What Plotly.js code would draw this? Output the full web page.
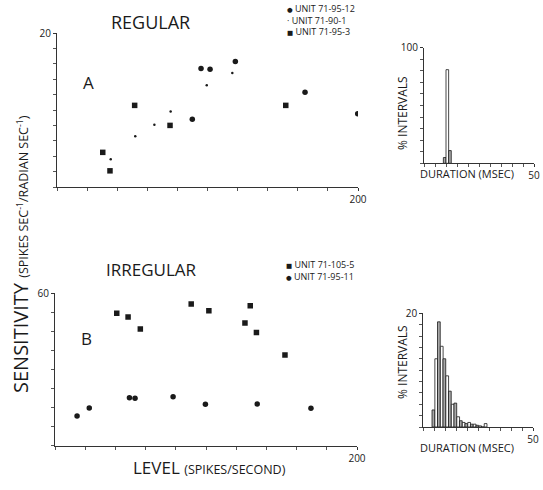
<!DOCTYPE html>
<html>
<head>
<meta charset="utf-8">
<script src="https://cdn.plot.ly/plotly-3.0.1.min.js"></script>
<style>html,body{margin:0;padding:0;background:#fff;}#chart{width:543px;height:490px;}</style>
</head>
<body>
<div id="chart"></div>
<script>
// ---------- DATA ----------
// Panel A (regular units): level (spikes/s) vs sensitivity
const regNames = ["UNIT 71-95-12", "UNIT 71-90-1", "UNIT 71-95-3"];
const regCircleLevel = [89.9, 95.7, 101.7, 118.5, 164.8, 199.8];
const regCircleSens  = [8.8, 15.4, 15.3, 16.3, 12.3, 9.5];
const regDotLevel    = [35.7, 52.0, 64.7, 75.5, 99.5, 116.5];
const regDotSens     = [3.6, 6.6, 8.1, 9.8, 13.2, 14.8];
const regSquareLevel = [30.4, 35.2, 51.6, 75.1, 152.0];
const regSquareSens  = [4.5, 2.1, 10.6, 8.0, 10.6];

// Panel B (irregular units)
const irrNames = ["UNIT 71-105-5", "UNIT 71-95-11"];
const irrSquareLevel = [40.9, 48.4, 56.5, 90.2, 101.9, 125.8, 129.3, 133.4, 152.3];
const irrSquareSens  = [52.1, 50.7, 45.9, 55.8, 53.1, 48.3, 55.1, 44.6, 35.7];
const irrCircleLevel = [14.6, 22.7, 49.3, 53.0, 78.2, 99.6, 133.9, 169.5];
const irrCircleSens  = [11.7, 14.8, 18.9, 18.7, 19.3, 16.3, 16.4, 14.7];

// Interval histograms (duration msec, % intervals)
const durTop = [9.4, 10.6, 11.8];
const pctTop = [5, 81, 11];
const durBot = [4.6, 5.9, 7.1, 8.4, 9.6, 10.9, 12.1, 13.4, 14.6, 15.9, 17.1, 18.4, 19.6, 20.9, 22.1, 23.4, 24.6, 25.9, 27.1, 28.4];
const pctBot = [3.0, 12.0, 18.5, 14.2, 12.0, 9.0, 6.3, 4.0, 4.2, 1.8, 1.1, 0.8, 0.6, 0.8, 0.5, 0.5, 0.3, 0.2, 0.0, 0.6];

// ---------- LAYOUT HELPERS ----------
const W = 543, H = 490;
const px = v => v / W;
const py = v => 1 - v / H;
const FONT = "Open Sans, DejaVu Sans, sans-serif";
const INK = "#1a1a1a";

function scatterTrace(x, y, symbol, size, xa, ya, name) {
  return {type: "scatter", mode: "markers", x: x, y: y, name: name,
    xaxis: xa, yaxis: ya, showlegend: false,
    marker: {symbol: symbol, size: size, color: INK, line: {width: 0}}};
}
function altColors(n) { const c = []; for (let i = 0; i < n; i++) c.push(i % 2 ? "#ffffff" : "#a8a8a8"); return c; }

const traces = [
  scatterTrace(regCircleLevel, regCircleSens, "circle", 5.5, "x", "y", regNames[0]),
  scatterTrace(regDotLevel, regDotSens, "circle", 2.5, "x", "y", regNames[1]),
  scatterTrace(regSquareLevel, regSquareSens, "square", 5.5, "x", "y", regNames[2]),
  scatterTrace(irrSquareLevel, irrSquareSens, "square", 5.5, "x2", "y2", irrNames[0]),
  scatterTrace(irrCircleLevel, irrCircleSens, "circle", 5.5, "x2", "y2", irrNames[1]),
  {type: "bar", x: durTop, y: pctTop, width: 1.2, xaxis: "x3", yaxis: "y3", showlegend: false,
   marker: {color: altColors(durTop.length), line: {color: INK, width: 0.8}}},
  {type: "bar", x: durBot, y: pctBot, width: 1.25, xaxis: "x4", yaxis: "y4", showlegend: false,
   marker: {color: altColors(durBot.length), line: {color: INK, width: 0.8}}}
];

function axis(domain, range, tickval, minorDtick, anchor) {
  return {domain: domain, range: range, anchor: anchor, showgrid: false, zeroline: false,
    showline: true, linecolor: "#333", linewidth: 1,
    tickvals: [tickval], ticktext: [String(tickval)], ticks: "outside", ticklen: 3, tickcolor: "#333",
    tickfont: {family: FONT, size: 10, color: INK},
    minor: {dtick: minorDtick, tick0: 0, ticks: "outside", ticklen: 3, tickcolor: "#555", showgrid: false},
    fixedrange: true};
}

const layout = {
  width: W, height: H,
  margin: {l: 0, r: 0, t: 0, b: 0},
  paper_bgcolor: "#fff", plot_bgcolor: "rgba(0,0,0,0)",
  showlegend: false,
  bargap: 0,
  xaxis:  axis([px(57), px(358)], [0, 200], 200, 20, "y"),
  yaxis:  axis([py(187), py(33)], [0, 20], 20, 2, "x"),
  xaxis2: axis([px(55), px(357)], [0, 200], 200, 20, "y2"),
  yaxis2: axis([py(445.7), py(293.3)], [0, 60], 60, 7.5, "x2"),
  xaxis3: axis([px(424), px(534)], [0, 50], 50, 5, "y3"),
  yaxis3: axis([py(163.3), py(47.7)], [0, 100], 100, 10, "x3"),
  xaxis4: axis([px(423.3), px(533)], [0, 50], 50, 5, "y4"),
  yaxis4: axis([py(427), py(313.3)], [0, 20], 20, 2, "x4"),
  annotations: []
};

function ann(text, x, y, size, opts) {
  return Object.assign({text: text, xref: "paper", yref: "paper", x: px(x), y: py(y),
    showarrow: false, xanchor: "center", yanchor: "middle",
    font: {family: FONT, size: size, color: INK}}, opts || {});
}
const mk = (g, s) => "<span style='font-size:" + s + "px'>" + g + "</span> ";

const A = layout.annotations;
A.push(ann("REGULAR", 150, 22, 18));
A.push(ann("IRREGULAR", 151, 269, 17));
A.push(ann("A", 88, 82, 17));
A.push(ann("B", 86, 338, 17));
// legends (one block each)
A.push(ann(mk("\u25CF", 6.5) + regNames[0] + "<br>" + mk("\u00B7", 9) + regNames[1] + "<br>" + mk("\u25A0", 6.5) + regNames[2],
  285, 19.5, 9, {xanchor: "left", align: "left"}));
A.push(ann(mk("\u25A0", 6.5) + irrNames[0] + "<br>" + mk("\u25CF", 6.5) + irrNames[1],
  284, 270.5, 9, {xanchor: "left", align: "left"}));
// big axis titles
A.push(ann("SENSITIVITY <span style='font-size:12.5px'>(SPIKES SEC<sup>-1</sup>/RADIAN SEC<sup>-1</sup>)</span>",
  20, 254, 20, {textangle: -90}));
A.push(ann("LEVEL <span style='font-size:12.5px'>(SPIKES/SECOND)</span>", 209, 467, 17));
// histogram titles
A.push(ann("% INTERVALS", 402, 113, 12, {textangle: -90}));
A.push(ann("DURATION (MSEC)", 467, 173, 11));
A.push(ann("% INTERVALS", 402, 362, 12, {textangle: -90}));
A.push(ann("DURATION (MSEC)", 467, 447, 11));

Plotly.newPlot("chart", traces, layout, {staticPlot: true, displayModeBar: false});
</script>
</body>
</html>
